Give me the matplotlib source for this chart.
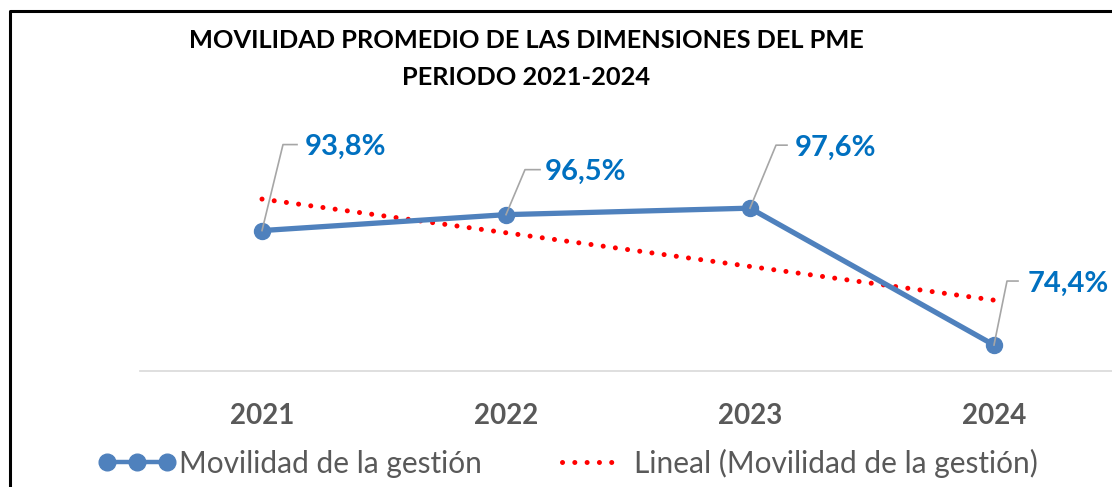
import numpy as np
import matplotlib
matplotlib.use("Agg")
import matplotlib.pyplot as plt
from matplotlib.lines import Line2D

# ---- data ----
years = ["2021", "2022", "2023", "2024"]
movilidad = [93.8, 96.5, 97.6, 74.4]
value_labels = ["93,8%", "96,5%", "97,6%", "74,4%"]
title_line1 = "MOVILIDAD PROMEDIO DE LAS DIMENSIONES DEL PME"
title_line2 = "PERIODO 2021-2024"
series_name = "Movilidad de la gestión"
trend_name = "Lineal (Movilidad de la gestión)"

# ---- style ----
FONT = "Lato"
BLUE = "#4F81BD"
LABEL_BLUE = "#0070C0"
RED = "#FF0000"
GRAY_TXT = "#595959"
W, H, DPI = 1112, 487, 100

fig = plt.figure(figsize=(W / DPI, H / DPI), dpi=DPI)
fig.patch.set_facecolor("white")

def px(x, y):
    return x / W, 1 - y / H

ax = fig.add_axes([140 / W, (H - 371) / H, 976 / W, 177 / H])
x = np.arange(len(years))
ax.set_xlim(-0.5, len(years) - 0.5)
ax.set_ylim(70, 100)

# trend line (least squares fit, as Excel linear trendline)
coef = np.polyfit(x, movilidad, 1)
trend = np.polyval(coef, x)
ax.plot(x, trend, color=RED, lw=3.6, linestyle=(0, (0.01, 2.45)),
        dash_capstyle="round", clip_on=False, zorder=2)

ax.plot(x, movilidad, color=BLUE, lw=3.8, marker="o", markersize=11.5,
        markerfacecolor=BLUE, markeredgecolor=BLUE, clip_on=False,
        solid_capstyle="round", zorder=3)

for s in ["top", "right", "left"]:
    ax.spines[s].set_visible(False)
ax.spines["bottom"].set_color("#D9D9D9")
ax.spines["bottom"].set_linewidth(1.2)
ax.set_yticks([])
ax.set_xticks(x)
ax.set_xticklabels(years, fontfamily=FONT, fontweight="bold", fontsize=20,
                   color=GRAY_TXT)
ax.tick_params(axis="x", length=0, pad=23)

# data labels with leader lines (pixel offsets: elbow dx, dy, end dx, label dx)
leader = [(21, -86, 35, 43), (19, -45, 34, 39), (26, -63, 37, 45), (13, -64, 24, 34)]
fig.canvas.draw()
for xi, yi, lab, (edx, edy, hdx, tdx) in zip(x, movilidad, value_labels, leader):
    X, Y = ax.transData.transform((xi, yi))
    pts = [(X, Y), (X + edx, Y - edy), (X + hdx, Y - edy)]
    fig.add_artist(Line2D([p[0] / W for p in pts], [p[1] / H for p in pts],
                          color="#A6A6A6", lw=1.2, transform=fig.transFigure))
    fig.text((X + tdx) / W, (Y - edy) / H, lab, color=LABEL_BLUE,
             fontfamily=FONT, fontweight="bold", fontsize=21,
             ha="left", va="center_baseline")

# title
fig.text(*px(526, 41), title_line1, ha="center", va="center",
         fontfamily=FONT, fontweight="bold", fontsize=18.3, color="black")
fig.text(*px(526, 77), title_line2, ha="center", va="center",
         fontfamily=FONT, fontweight="bold", fontsize=18.3, color="black")

# legend
h1 = Line2D([], [], color=BLUE, lw=3.2, marker="o", markersize=12)
h2 = Line2D([], [], color=RED, lw=3.6, linestyle=(0, (0.01, 2.45)),
            dash_capstyle="round")
leg = fig.legend([h1, h2], [series_name, trend_name], loc="center",
                 bbox_to_anchor=px(568, 463), ncol=2, frameon=False,
                 numpoints=3, handlelength=2.6, handletextpad=0.1,
                 columnspacing=2.4,
                 prop={"family": FONT, "size": 21.5})
for t in leg.get_texts():
    t.set_color(GRAY_TXT)

# chart border (left and top edges visible)
fig.add_artist(Line2D([10 / W, 10 / W, 1.0], [0.0, 1 - 11 / H, 1 - 11 / H],
                      color="black", lw=2.2, transform=fig.transFigure))

fig.savefig("out.png", dpi=DPI)
